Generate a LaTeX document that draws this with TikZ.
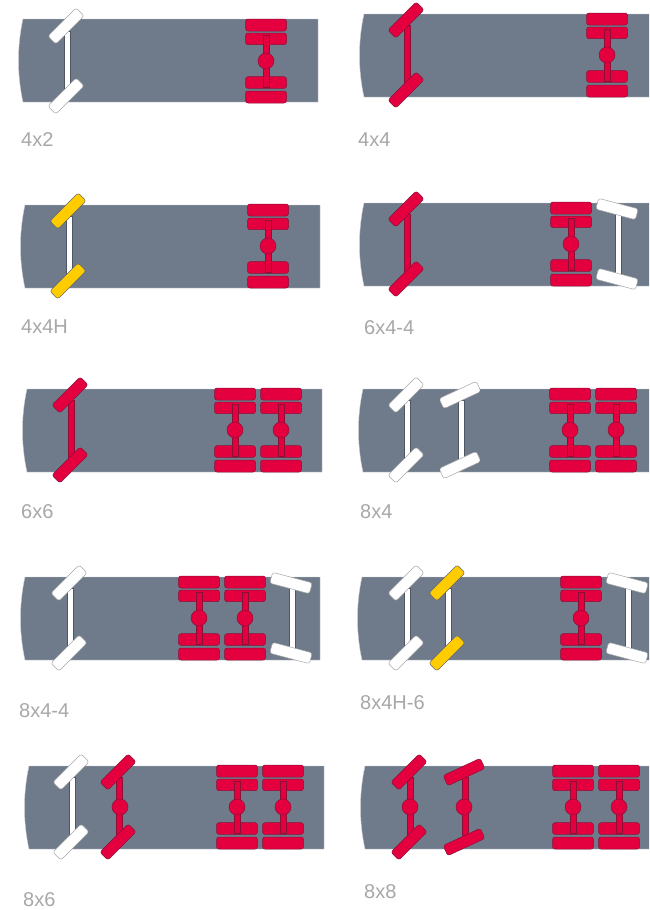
\documentclass[tikz,border=0pt]{standalone}
\usepackage{fontspec}
\setmainfont{Liberation Sans}
\definecolor{panelgray}{HTML}{6F7B8A}
\definecolor{panelline}{HTML}{C9CDD2}
\definecolor{wred}{HTML}{E4003F}
\definecolor{wredline}{HTML}{8A1038}
\definecolor{wyellow}{HTML}{FFCC00}
\definecolor{labelgray}{HTML}{A8A8A8}
\tikzset{
  panelshape/.style={fill=panelgray,draw=panelline,line width=.4pt},
  wheelred/.style={fill=wred,draw=wredline,line width=.5pt,rounded corners=2.5pt},
  wheelwhite/.style={fill=white,draw=gray!70,line width=.5pt,rounded corners=2.5pt},
  wheelyellow/.style={fill=wyellow,draw=gray!80!black,line width=.5pt,rounded corners=2.5pt},
  axlered/.style={fill=wred,draw=wredline,line width=.5pt},
  axlewhite/.style={fill=white,draw=panelgray!70!black,line width=.3pt},
  hubred/.style={fill=wred,draw=wredline,line width=.5pt},
  caption/.style={text=labelgray,font=\fontsize{20}{22}\selectfont,anchor=base west,inner sep=0pt}
}
% #1 left, #2 top, #3 right
\newcommand{\panelbody}[3]{%
  \draw[panelshape] (#1,#2) .. controls (#1-6,#2+28) and (#1-6,#2+55) .. (#1,#2+83) -- (#3,#2+83) -- (#3,#2) -- cycle;}
% steering axle: #1 x, #2 mid y, #3 angle, #4 wheel colour, #5 axle colour, #6 wheel length
\newcommand{\steeraxle}[6]{%
  \draw[axle#5] (#1-1.5,#2-30) rectangle (#1+4,#2+30);
  \draw[wheel#4,shift={(#1,#2-35)},rotate=#3] (-#6/2,-5.6) rectangle (#6/2,5.6);
  \draw[wheel#4,shift={(#1,#2+35)},rotate=#3] (-#6/2,-5.6) rectangle (#6/2,5.6);}
\newcommand{\axlehub}[2]{\draw[hubred] (#1,#2) circle (8pt);}
% driven axle: #1 x, #2 mid y
\newcommand{\driveaxle}[2]{%
  \foreach \off/\h in {-42/12,-28/11.7,15.7/11.7,30/12}{
    \draw[wheelred] (#1-20.5,#2+\off) rectangle ++(41,\h);}
  \draw[axlered] (#1-3,#2-26) rectangle (#1+3,#2+26);
  \axlehub{#1}{#2}}
\begin{document}
\begin{tikzpicture}[x=1pt,y=-1pt]
\useasboundingbox (0,0) rectangle (649,910);
\clip (0,0) rectangle (649,910);
\fill[white] (0,0) rectangle (649,910);
% 4x2
\panelbody{23}{19}{318}
\steeraxle{66}{61}{45}{white}{white}{40}
\driveaxle{266}{61}
\node[caption] (l1) at (21,146) {4x2};
% 4x4
\panelbody{364}{14}{660}
\steeraxle{406}{55}{45}{red}{red}{40}
\driveaxle{607}{55}
\node[caption] (l2) at (358,146) {4x4};
% 4x4H
\panelbody{25}{205}{320}
\steeraxle{68}{246}{45}{yellow}{white}{40}
\driveaxle{268}{246}
\node[caption] (l3) at (21,333) {4x4H};
% 6x4-4
\panelbody{364}{203}{660}
\steeraxle{406}{244}{45}{red}{red}{40}
\driveaxle{571}{244}
\steeraxle{617}{244}{-15}{white}{white}{41}
\node[caption] (l4) at (364,334) {6x4-4};
% 6x6
\panelbody{27}{389}{322}
\steeraxle{70}{430}{45}{red}{red}{40}
\driveaxle{235}{430}
\driveaxle{281}{430}
\node[caption] (l5) at (21,518) {6x6};
% 8x4
\panelbody{363}{389}{660}
\steeraxle{406}{430}{45}{white}{white}{40}
\steeraxle{460}{430}{25}{white}{white}{41}
\driveaxle{570}{430}
\driveaxle{616}{430}
\node[caption] (l6) at (360,518) {8x4};
% 8x4-4
\panelbody{25}{577}{320}
\steeraxle{69}{618}{45}{white}{white}{40}
\driveaxle{199}{618}
\driveaxle{245}{618}
\steeraxle{291}{618}{-15}{white}{white}{41}
\node[caption] (l7) at (19,717) {8x4-4};
% 8x4H-6
\panelbody{362}{577}{660}
\steeraxle{406}{618}{45}{white}{white}{40}
\steeraxle{447}{618}{45}{yellow}{white}{40}
\driveaxle{581}{618}
\steeraxle{627}{618}{-15}{white}{white}{41}
\node[caption] (l8) at (360,709) {8x4H-6};
% 8x6
\panelbody{29}{766}{324}
\steeraxle{71}{807}{45}{white}{white}{40}
\steeraxle{118}{807}{45}{red}{red}{40}
\axlehub{120}{807}
\driveaxle{237}{807}
\driveaxle{283}{807}
\node[caption] (l9) at (23,906) {8x6};
% 8x8
\panelbody{365}{766}{660}
\steeraxle{409}{807}{45}{red}{red}{40}
\axlehub{410}{807}
\steeraxle{464}{807}{25}{red}{red}{41}
\axlehub{464}{807}
\driveaxle{573}{807}
\driveaxle{619}{807}
\node[caption] (l10) at (364,898) {8x8};
\end{tikzpicture}
\end{document}
